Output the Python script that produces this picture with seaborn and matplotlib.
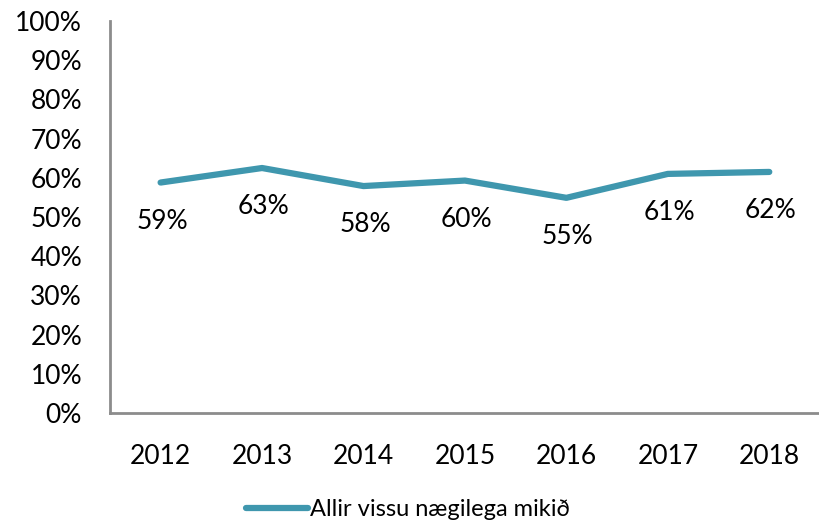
import numpy as np
import pandas as pd
import matplotlib
matplotlib.use("Agg")
import matplotlib.pyplot as plt
from matplotlib.ticker import FixedLocator
import seaborn as sns

# ── Data ───────────────────────────────────────────────────────────────────────
years  = ["2012", "2013", "2014", "2015", "2016", "2017", "2018"]
values = [58.8, 62.5, 57.9, 59.3, 54.9, 61.0, 61.5]
labels = ["59%", "63%", "58%", "60%", "55%", "61%", "62%"]
series_name = "Allir vissu nægilega mikið"

LINE_COLOUR = "#3F97AE"
AXIS_COLOUR = "#8C8C8C"

sns.set_style("white")
plt.rcParams["font.family"] = ["Lato", "DejaVu Sans"]
plt.rcParams["text.color"] = "black"
plt.rcParams["xtick.color"] = "black"
plt.rcParams["ytick.color"] = "black"

df = pd.DataFrame({"year": years, "value": values, "series": series_name})
df["x"] = np.arange(len(df))

fig = plt.figure(figsize=(8.2, 5.23), dpi=100)
ax = fig.add_axes([0.134, 0.21, 0.866, 0.75])

sns.lineplot(data=df, x="x", y="value", hue="series", palette=[LINE_COLOUR],
             linewidth=4.5, ax=ax, legend=True)

# data labels below each point
for xi, yi, lab in zip(df["x"], df["value"], labels):
    ax.annotate(lab, (xi, yi), textcoords="offset points", xytext=(1, -28),
                ha="center", va="center", fontsize=19)

ax.set_xlim(-0.5, len(years) - 0.5)
ax.set_ylim(0, 100)
ax.set_yticks(np.arange(0, 101, 10))
ax.set_yticklabels([f"{v}%" for v in range(0, 101, 10)], fontsize=19)
ax.set_xticks(df["x"])
ax.set_xticklabels(years, fontsize=19)
ax.xaxis.set_minor_locator(FixedLocator(np.arange(-0.5, len(years), 1.0)))
ax.tick_params(axis="x", which="major", length=0, pad=22)
ax.tick_params(axis="x", which="minor", length=7, width=2, color=AXIS_COLOUR, direction="out")
ax.tick_params(axis="y", length=7, width=2, color=AXIS_COLOUR, direction="out", pad=13)
ax.set_xlabel("")
ax.set_ylabel("")

for side in ["top", "right"]:
    ax.spines[side].set_visible(False)
for side in ["left", "bottom"]:
    ax.spines[side].set_color(AXIS_COLOUR)
    ax.spines[side].set_linewidth(2)

ax.legend(loc="center", bbox_to_anchor=(0.42, -0.245), frameon=False,
          fontsize=17, handlelength=2.6, handletextpad=0.1)

fig.savefig("out.png", dpi=100)
